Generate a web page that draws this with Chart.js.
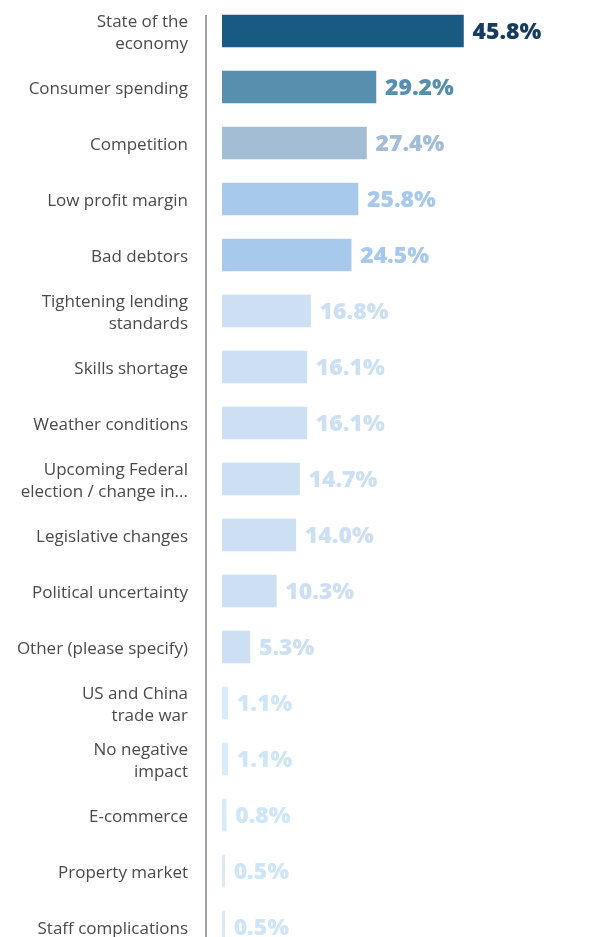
<!DOCTYPE html>
<html>
<head>
<meta charset="utf-8">
<script src="https://cdn.jsdelivr.net/npm/chart.js@4/dist/chart.umd.min.js"></script>
<style>
  html, body { margin: 0; padding: 0; background: #fff; overflow: hidden; }
  #wrap { position: relative; width: 591px; height: 960px; }
</style>
</head>
<body>
<div id="wrap"><canvas id="c"></canvas></div>
<script>
// Business factors with a negative impact (share of respondents, %)
const categories = [
  ["State of the", "economy"],
  "Consumer spending",
  "Competition",
  "Low profit margin",
  "Bad debtors",
  ["Tightening lending", "standards"],
  "Skills shortage",
  "Weather conditions",
  ["Upcoming Federal", "election / change in..."],
  "Legislative changes",
  "Political uncertainty",
  "Other (please specify)",
  ["US and China", "trade war"],
  ["No negative", "impact"],
  "E-commerce",
  "Property market",
  "Staff complications"
];
const values = [45.8, 29.2, 27.4, 25.8, 24.5, 16.8, 16.1, 16.1, 14.7, 14.0, 10.3, 5.3, 1.1, 1.1, 0.8, 0.5, 0.5];
const valueLabels = ["45.8%", "29.2%", "27.4%", "25.8%", "24.5%", "16.8%", "16.1%", "16.1%", "14.7%", "14.0%", "10.3%", "5.3%", "1.1%", "1.1%", "0.8%", "0.5%", "0.5%"];

const barColors = [
  "#185a82", "#5690ae", "#a3bdd5", "#a7caec", "#a7caec",
  "#cde0f3", "#cde0f3", "#cde0f3", "#cde0f3", "#cde0f3", "#cde0f3", "#cde0f3",
  "#d8ebfa", "#d8ebfa", "#d8ebfa", "#d8ebfa", "#d8ebfa"
];
const labelColors = [
  "#163d5e", "#5690ae", "#a3bdd5", "#a7caec", "#a7caec",
  "#cde0f3", "#cde0f3", "#cde0f3", "#cde0f3", "#cde0f3", "#cde0f3", "#cde0f3",
  "#cfe6f8", "#cfe6f8", "#cfe6f8", "#cfe6f8", "#cfe6f8"
];

// Value text to the right of each bar
const valueTextPlugin = {
  id: "valueText",
  afterDatasetsDraw(chart) {
    const ctx = chart.ctx;
    const meta = chart.getDatasetMeta(0);
    ctx.save();
    ctx.font = "800 23px 'Open Sans'";
    ctx.textAlign = "left";
    ctx.textBaseline = "middle";
    meta.data.forEach((bar, i) => {
      ctx.fillStyle = labelColors[i];
      ctx.fillText(valueLabels[i], bar.x + 9, bar.y + 1);
    });
    ctx.restore();
  }
};

// Vertical rule between the labels and the bars
const axisRulePlugin = {
  id: "axisRule",
  afterDatasetsDraw(chart) {
    const ctx = chart.ctx;
    const first = chart.getDatasetMeta(0).data[0];
    const top = first.y - first.height / 2;
    const x = chart.chartArea.left - 16;
    ctx.save();
    ctx.strokeStyle = "#a3a3a3";
    ctx.lineWidth = 2;
    ctx.beginPath();
    ctx.moveTo(x, top);
    ctx.lineTo(x, chart.height);
    ctx.stroke();
    ctx.restore();
  }
};

new Chart(document.getElementById("c"), {
  type: "bar",
  data: {
    labels: categories,
    datasets: [{
      data: values,
      backgroundColor: barColors,
      borderWidth: 0,
      barThickness: 32
    }]
  },
  options: {
    indexAxis: "y",
    responsive: true,
    maintainAspectRatio: false,
    animation: false,
    layout: { padding: { top: 3, bottom: 5, left: 0, right: 0 } },
    plugins: {
      legend: { display: false },
      tooltip: { enabled: false }
    },
    scales: {
      x: {
        display: false,
        min: 0,
        max: 70
      },
      y: {
        grid: { display: false, drawTicks: false },
        border: { display: false },
        ticks: {
          color: "#4a4a4a",
          font: { family: "'Open Sans'", size: 17, lineHeight: 1.3 },
          padding: 34,
          labelOffset: 2,
          autoSkip: false
        },
        afterFit(scale) {
          scale.width = 222;
          scale.paddingTop = 0;
          scale.paddingBottom = 0;
        }
      }
    }
  },
  plugins: [valueTextPlugin, axisRulePlugin]
});
</script>
</body>
</html>
